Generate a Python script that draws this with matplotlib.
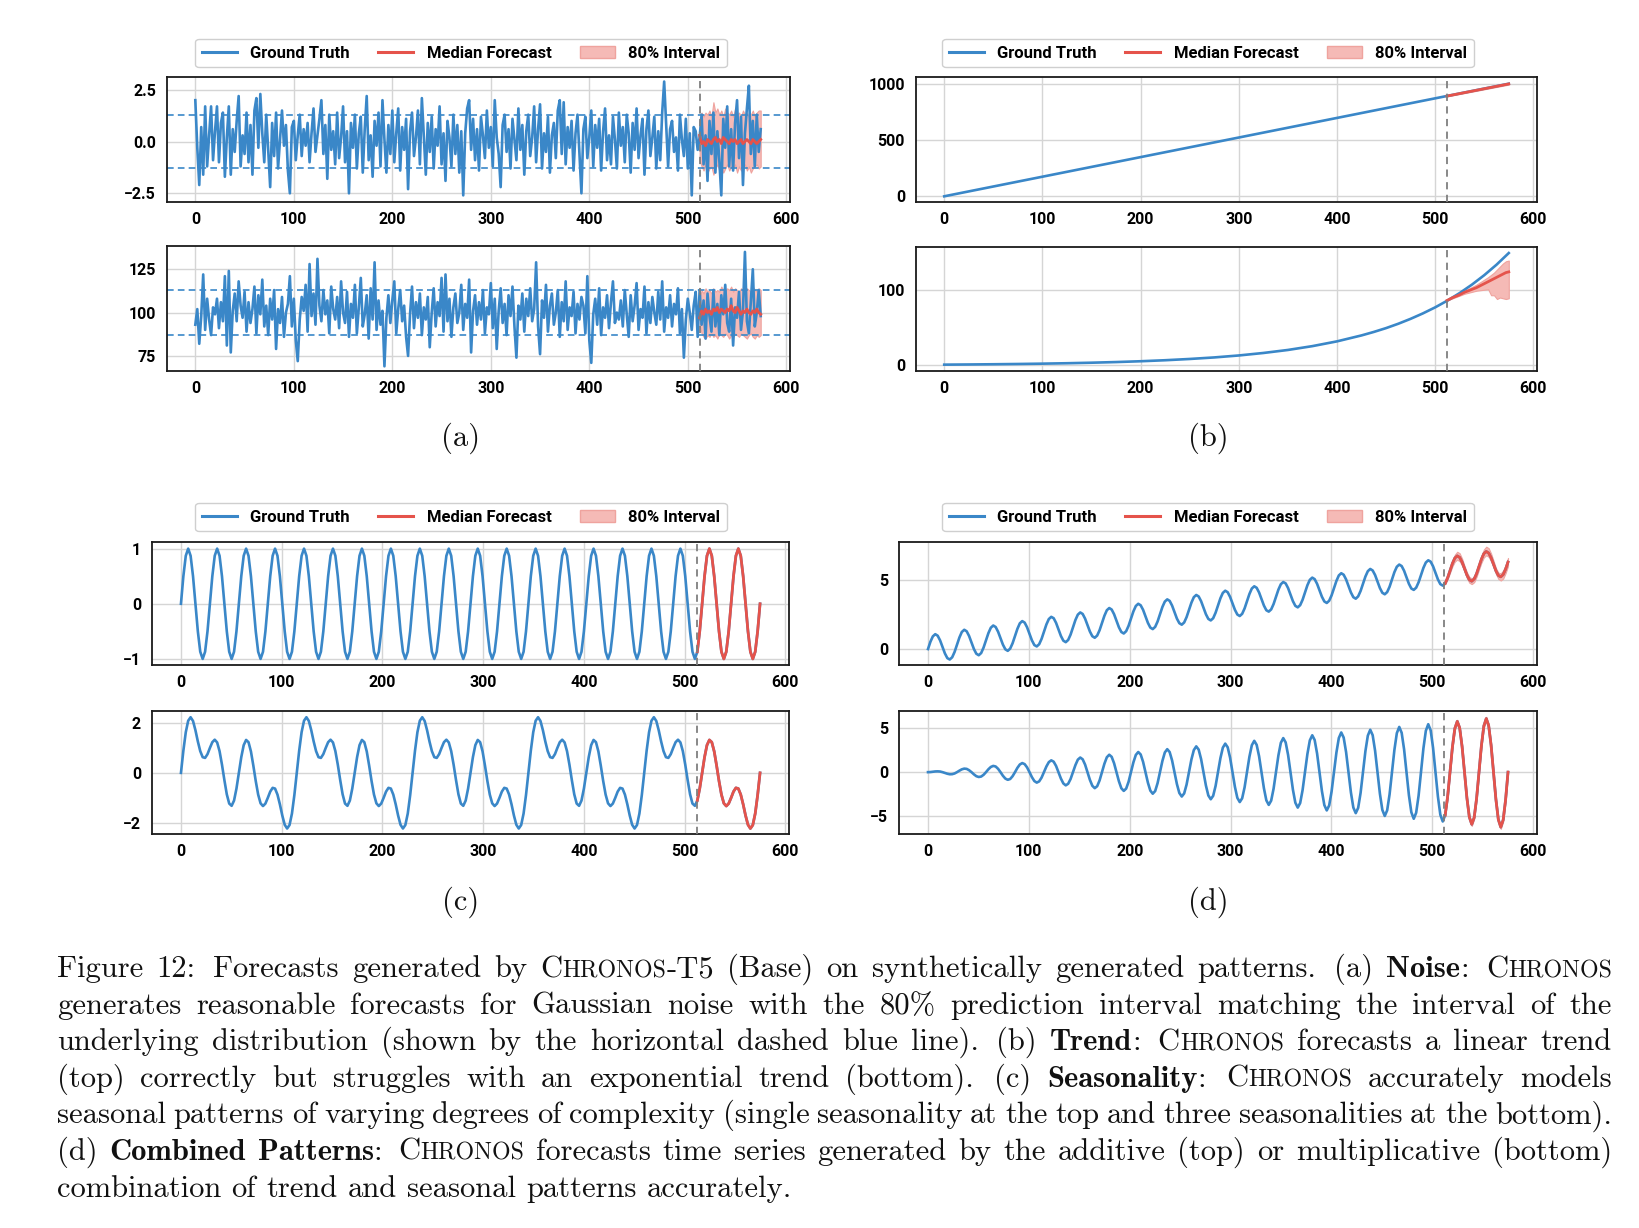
import os
import numpy as np
import matplotlib
matplotlib.use("Agg")
import matplotlib.pyplot as plt
from matplotlib.font_manager import FontProperties
from matplotlib.lines import Line2D
from matplotlib.patches import Patch

plt.rcParams['font.family'] = ['Roboto', 'DejaVu Sans']
plt.rcParams['font.weight'] = 'bold'

# ---------------- data ----------------
forecast_start = 512

# (a) Gaussian noise (read every 2nd step)
a_x = np.arange(0, 576, 2)
a_top_truth = [
    2.0, -0.3, -2.1, 0.7, -1.6, 1.7, -1.2, 0.3, 1.7, -0.9, 0.5, 1.7, -1.0, 0.9, 1.4, -1.7, 0.2, 1.7, -1.6, 0.6, -0.5, 1.0, 2.2, -1.2,
    0.3, -0.6, 1.4, -1.0, 0.8, -1.6, 1.5, 2.1, -0.3, 2.3, 0.4, -1.0, 1.3, -0.4, -2.2, 0.9, -0.7, 1.4, -1.3, 0.1, 1.5, -0.2, 0.8, -1.4,
    -2.5, 0.7, 1.0, -0.9, 0.3, 1.3, -0.7, 0.6, -0.2, 0.9, -1.0, 0.4, 1.6, -0.5, 0.3, 1.1, 2.0, -0.6, 0.8, -1.8, 1.3, -0.4, 0.5, -1.1,
    1.4, -0.8, 0.2, 1.7, -1.0, 0.5, -2.5, 0.9, -0.3, 1.3, -1.3, 0.4, 1.2, -1.5, 0.6, 2.2, -0.9, 0.3, -1.7, 1.0, -0.2, 1.4, -1.2, 2.0,
    0.1, -1.5, 0.8, -0.6, 1.5, -1.0, 0.4, 1.6, -1.4, 0.7, -0.4, 1.1, -2.3, 0.5, 1.4, -0.7, 0.2, 1.5, -1.1, 2.1, 0.3, -1.6, 0.9, -0.5,
    1.2, -1.3, 0.6, -0.2, 1.7, -1.1, 0.4, -1.9, 1.0, 0.2, -1.2, 1.3, -0.6, 0.8, -1.5, 0.5, -2.6, 0.4, 1.6, 2.0, -0.4, 1.1, -0.9, 0.6,
    -1.4, 1.2, 0.3, -0.8, 1.5, -0.3, 0.7, -1.2, 2.0, 0.2, -0.6, -2.2, 0.8, 1.3, -0.5, 0.6, -1.3, 1.1, 0.1, -0.9, 1.6, -0.4, 0.8, -1.6,
    0.5, 1.3, -0.7, 0.2, 1.7, -1.0, 0.6, 1.8, -1.3, 0.4, -0.5, 1.2, -1.5, 0.3, 0.9, -0.8, 1.5, 2.0, -0.6, 1.9, -1.1, 0.7, -0.3, 1.0,
    -1.4, 0.4, 1.3, -0.6, -2.5, 0.6, 1.2, -0.8, 0.2, 1.5, -1.2, 0.8, -0.3, 1.1, -1.4, 0.5, 1.6, -0.9, 0.3, -1.1, 1.2, 0.1, -1.3, 1.4,
    -0.2, 0.7, -1.0, 1.3, 0.4, -1.5, 0.9, -0.4, 1.6, -0.8, 0.3, 1.1, -1.6, 0.6, 1.5, -0.7, 0.2, 1.2, -1.3, 0.5, -0.9, 1.4, 2.9, 0.8,
    -1.2, 0.6, 1.0, -0.5, 0.2, -1.4, 1.3, 0.1, -0.7, 1.1, -1.3, 0.4, -2.6, 0.7, 0.5, -0.4, 0.2, 1.3, -1.1, 0.3, -1.9, 1.0, -0.6, 1.4,
    -1.5, 0.5, -0.9, -2.6, 1.1, -0.3, 1.7, -1.2, 0.6, -1.4, 0.9, 2.0, -0.8, 1.2, -2.1, 0.4, 1.6, 2.7, -0.6, 1.0, -1.2, 1.3, -0.5, 0.6,
]
a_top_bounds = [-1.28, 1.28]
a_bot_truth = [
    93, 102, 82, 98, 122, 90, 108, 96, 87, 103, 99, 108, 91, 106, 95, 121, 81, 124, 77, 101, 111, 95, 118, 104,
    97, 112, 89, 106, 94, 102, 115, 88, 110, 99, 119, 92, 104, 87, 108, 96, 113, 79, 102, 94, 109, 86, 100, 105,
    121, 92, 108, 84, 72, 96, 109, 101, 116, 89, 128, 98, 111, 93, 131, 104, 95, 113, 99, 107, 88, 115, 102, 96,
    109, 91, 118, 100, 94, 112, 86, 105, 97, 116, 88, 103, 120, 92, 99, 110, 85, 114, 96, 129, 90, 107, 93, 101,
    69, 97, 110, 94, 107, 118, 88, 102, 113, 95, 104, 86, 75, 99, 115, 91, 106, 97, 111, 87, 103, 96, 109, 80,
    100, 114, 92, 106, 98, 120, 89, 122, 95, 108, 86, 103, 111, 94, 100, 116, 90, 105, 97, 119, 77, 101, 110, 93,
    106, 96, 113, 88, 103, 99, 117, 91, 108, 79, 101, 114, 94, 105, 87, 110, 98, 115, 92, 74, 104, 96, 111, 89,
    108, 98, 114, 95, 102, 129, 92, 76, 107, 97, 116, 89, 104, 111, 93, 100, 113, 86, 106, 95, 118, 90, 103, 98,
    112, 88, 105, 96, 109, 104, 88, 121, 84, 71, 99, 108, 93, 114, 87, 103, 97, 110, 91, 106, 118, 94, 100, 96,
    107, 92, 113, 99, 86, 110, 95, 104, 117, 90, 102, 97, 115, 88, 106, 94, 109, 100, 93, 112, 96, 118, 89, 103,
    97, 110, 92, 105, 99, 114, 88, 102, 74, 96, 108, 100, 90, 104, 112, 86, 113, 93, 107, 85, 111, 98, 89, 113,
    92, 105, 87, 110, 99, 116, 94, 89, 108, 81, 103, 97, 112, 90, 101, 135, 95, 88, 106, 125, 92, 100, 113, 98,
]
a_bot_bounds = [87.2, 112.8]

a_fx = np.arange(512, 576, 2)
a_top_med = [0.3, -0.1, 0.0, -0.2, 0.1, 0.0, -0.1, 0.1, 0.2, 0.0, 0.1, -0.1, 0.2, 0.1, 0.0, -0.1,
             0.1, 0.0, 0.1, -0.1, 0.0, 0.1, -0.1, 0.0, 0.1, 0.0, -0.1, 0.1, 0.0, -0.1, 0.0, 0.1]
a_top_hi = [1.0, 1.4, 1.2, 1.4, 1.3, 1.5, 1.2, 1.9, 1.4, 1.6, 1.3, 1.5, 1.2, 1.6, 1.4, 1.3,
            1.5, 1.2, 1.6, 1.3, 1.4, 1.2, 1.5, 1.3, 1.4, 1.2, 1.3, 1.5, 1.2, 1.4, 1.5, 1.5]
a_top_lo = [-0.9, -1.2, -1.4, -1.1, -1.5, -1.3, -1.2, -1.6, -1.3, -1.1, -1.4, -1.2, -1.5, -1.3, -1.1, -1.4,
            -1.2, -1.3, -1.1, -1.5, -1.2, -1.4, -1.3, -1.1, -1.4, -1.2, -1.5, -1.3, -1.2, -1.1, -1.3, -1.2]
a_bot_med = [97, 101, 99, 102, 100, 101, 99, 102, 101, 103, 100, 102, 101, 100, 102, 101,
             104, 101, 100, 103, 101, 99, 101, 100, 102, 100, 99, 101, 100, 102, 100, 99]
a_bot_hi = [108, 113, 111, 114, 112, 113, 111, 114, 112, 113, 112, 115, 113, 112, 114, 113,
            115, 112, 114, 113, 112, 114, 113, 112, 114, 113, 112, 115, 113, 112, 114, 113]
a_bot_lo = [93, 88, 86, 85, 87, 86, 88, 86, 87, 85, 88, 87, 86, 88, 87, 85,
            87, 86, 88, 87, 86, 88, 87, 86, 85, 87, 88, 86, 85, 87, 86, 87]

# (b) trends
b_top_x = [0, 100, 200, 300, 400, 500, 575]
b_top_truth = [0, 174, 348, 522, 696, 870, 1000]
b_top_fx = [512, 544, 575]
b_top_med = [890, 945, 998]
b_top_hi = [893, 950, 1005]
b_top_lo = [887, 940, 992]

b_bot_x = [0, 25, 50, 75, 100, 125, 150, 175, 200, 225, 250, 275, 300, 325, 350, 375, 400, 425,
           437.5, 450, 462.5, 475, 487.5, 500, 512.5, 525, 537.5, 550, 562.5, 575]
b_bot_truth = [0.93, 1.16, 1.45, 1.80, 2.25, 2.80, 3.50, 4.36, 5.44, 6.78, 8.46, 10.5, 13.1, 16.4, 20.4,
               25.5, 31.8, 39.7, 44.3, 49.4, 55.2, 61.7, 68.9, 76.9, 85.9, 95.9, 107.1, 119.6, 133.5, 149.0]
b_bot_fx = [512, 518, 524, 530, 536, 542, 548, 554, 557, 560, 563, 566, 569, 572, 575]
b_bot_med = [86, 90, 93, 97, 100, 103, 107, 111, 113, 115, 117, 119, 121, 123, 124]
b_bot_hi = [86, 90, 94, 99, 103, 107, 112, 117, 120, 123, 127, 131, 135, 138, 139]
b_bot_lo = [86, 89, 92, 95, 97, 99, 100, 101, 93, 93, 88, 90, 89, 88, 89]

# (c), (d) seasonal series, read 12 times per short cycle
s_x = np.arange(241) * 575 / 240
s_fx = s_x[214:]
c_top_truth = [
    0, 0.5, 0.87, 1, 0.87, 0.5, 0, -0.5, -0.87, -1, -0.87, -0.5,
    0, 0.5, 0.87, 1, 0.87, 0.5, 0, -0.5, -0.87, -1, -0.87, -0.5,
    0, 0.5, 0.87, 1, 0.87, 0.5, 0, -0.5, -0.87, -1, -0.87, -0.5,
    0, 0.5, 0.87, 1, 0.87, 0.5, 0, -0.5, -0.87, -1, -0.87, -0.5,
    0, 0.5, 0.87, 1, 0.87, 0.5, 0, -0.5, -0.87, -1, -0.87, -0.5,
    0, 0.5, 0.87, 1, 0.87, 0.5, 0, -0.5, -0.87, -1, -0.87, -0.5,
    0, 0.5, 0.87, 1, 0.87, 0.5, 0, -0.5, -0.87, -1, -0.87, -0.5,
    0, 0.5, 0.87, 1, 0.87, 0.5, 0, -0.5, -0.87, -1, -0.87, -0.5,
    0, 0.5, 0.87, 1, 0.87, 0.5, 0, -0.5, -0.87, -1, -0.87, -0.5,
    0, 0.5, 0.87, 1, 0.87, 0.5, 0, -0.5, -0.87, -1, -0.87, -0.5,
    0, 0.5, 0.87, 1, 0.87, 0.5, 0, -0.5, -0.87, -1, -0.87, -0.5,
    0, 0.5, 0.87, 1, 0.87, 0.5, 0, -0.5, -0.87, -1, -0.87, -0.5,
    0, 0.5, 0.87, 1, 0.87, 0.5, 0, -0.5, -0.87, -1, -0.87, -0.5,
    0, 0.5, 0.87, 1, 0.87, 0.5, 0, -0.5, -0.87, -1, -0.87, -0.5,
    0, 0.5, 0.87, 1, 0.87, 0.5, 0, -0.5, -0.87, -1, -0.87, -0.5,
    0, 0.5, 0.87, 1, 0.87, 0.5, 0, -0.5, -0.87, -1, -0.87, -0.5,
    0, 0.5, 0.87, 1, 0.87, 0.5, 0, -0.5, -0.87, -1, -0.87, -0.5,
    0, 0.5, 0.87, 1, 0.87, 0.5, 0, -0.5, -0.87, -1, -0.87, -0.5,
    0, 0.5, 0.87, 1, 0.87, 0.5, 0, -0.5, -0.87, -1, -0.87, -0.5,
    0, 0.5, 0.87, 1, 0.87, 0.5, 0, -0.5, -0.87, -1, -0.87, -0.5,
    0,
]
c_top_med = [-0.87, -0.5, 0, 0.5, 0.87, 1, 0.87, 0.5, 0, -0.5, -0.87, -1, -0.87, -0.5,
             0, 0.5, 0.87, 1, 0.87, 0.5, 0, -0.5, -0.87, -1, -0.87, -0.5, 0]
c_bot_truth = [
    0, 0.89, 1.63, 2.09, 2.23, 2.08, 1.71, 1.26, 0.87, 0.63, 0.60, 0.75,
    1.00, 1.23, 1.33, 1.22, 0.87, 0.33, -0.29, -0.86, -1.23, -1.32, -1.11, -0.63,
    0, 0.63, 1.11, 1.32, 1.23, 0.86, 0.29, -0.33, -0.87, -1.22, -1.33, -1.23,
    -1.00, -0.75, -0.60, -0.63, -0.87, -1.26, -1.71, -2.08, -2.23, -2.09, -1.63, -0.89,
    0, 0.89, 1.63, 2.09, 2.23, 2.08, 1.71, 1.26, 0.87, 0.63, 0.60, 0.75,
    1.00, 1.23, 1.33, 1.22, 0.87, 0.33, -0.29, -0.86, -1.23, -1.32, -1.11, -0.63,
    0, 0.63, 1.11, 1.32, 1.23, 0.86, 0.29, -0.33, -0.87, -1.22, -1.33, -1.23,
    -1.00, -0.75, -0.60, -0.63, -0.87, -1.26, -1.71, -2.08, -2.23, -2.09, -1.63, -0.89,
    0, 0.89, 1.63, 2.09, 2.23, 2.08, 1.71, 1.26, 0.87, 0.63, 0.60, 0.75,
    1.00, 1.23, 1.33, 1.22, 0.87, 0.33, -0.29, -0.86, -1.23, -1.32, -1.11, -0.63,
    0, 0.63, 1.11, 1.32, 1.23, 0.86, 0.29, -0.33, -0.87, -1.22, -1.33, -1.23,
    -1.00, -0.75, -0.60, -0.63, -0.87, -1.26, -1.71, -2.08, -2.23, -2.09, -1.63, -0.89,
    0, 0.89, 1.63, 2.09, 2.23, 2.08, 1.71, 1.26, 0.87, 0.63, 0.60, 0.75,
    1.00, 1.23, 1.33, 1.22, 0.87, 0.33, -0.29, -0.86, -1.23, -1.32, -1.11, -0.63,
    0, 0.63, 1.11, 1.32, 1.23, 0.86, 0.29, -0.33, -0.87, -1.22, -1.33, -1.23,
    -1.00, -0.75, -0.60, -0.63, -0.87, -1.26, -1.71, -2.08, -2.23, -2.09, -1.63, -0.89,
    0, 0.89, 1.63, 2.09, 2.23, 2.08, 1.71, 1.26, 0.87, 0.63, 0.60, 0.75,
    1.00, 1.23, 1.33, 1.22, 0.87, 0.33, -0.29, -0.86, -1.23, -1.32, -1.11, -0.63,
    0, 0.63, 1.11, 1.32, 1.23, 0.86, 0.29, -0.33, -0.87, -1.22, -1.33, -1.23,
    -1.00, -0.75, -0.60, -0.63, -0.87, -1.26, -1.71, -2.08, -2.23, -2.09, -1.63, -0.89,
    0,
]
c_bot_med = [-1.11, -0.63, 0, 0.63, 1.11, 1.32, 1.23, 0.86, 0.29, -0.33, -0.87, -1.22, -1.33, -1.23,
             -1.00, -0.75, -0.60, -0.63, -0.87, -1.26, -1.71, -2.08, -2.23, -2.09, -1.63, -0.89, 0]
d_top_truth = [
    0, 0.53, 0.92, 1.08, 0.97, 0.63, 0.16, -0.32, -0.66, -0.76, -0.60, -0.21,
    0.32, 0.84, 1.24, 1.40, 1.29, 0.95, 0.47, 0.00, -0.34, -0.45, -0.29, 0.11,
    0.63, 1.16, 1.55, 1.71, 1.60, 1.26, 0.79, 0.32, -0.02, -0.13, 0.03, 0.42,
    0.95, 1.47, 1.87, 2.03, 1.92, 1.58, 1.11, 0.63, 0.29, 0.19, 0.35, 0.74,
    1.26, 1.79, 2.18, 2.34, 2.24, 1.90, 1.42, 0.95, 0.61, 0.50, 0.66, 1.05,
    1.58, 2.11, 2.50, 2.66, 2.55, 2.21, 1.74, 1.27, 0.93, 0.82, 0.98, 1.37,
    1.90, 2.42, 2.82, 2.98, 2.87, 2.53, 2.06, 1.58, 1.24, 1.13, 1.30, 1.69,
    2.21, 2.74, 3.13, 3.29, 3.18, 2.85, 2.37, 1.90, 1.56, 1.45, 1.61, 2.00,
    2.53, 3.06, 3.45, 3.61, 3.50, 3.16, 2.69, 2.21, 1.88, 1.77, 1.93, 2.32,
    2.85, 3.37, 3.77, 3.93, 3.82, 3.48, 3.00, 2.53, 2.19, 2.08, 2.24, 2.64,
    3.16, 3.69, 4.08, 4.24, 4.13, 3.79, 3.32, 2.85, 2.51, 2.40, 2.56, 2.95,
    3.48, 4.00, 4.40, 4.56, 4.45, 4.11, 3.64, 3.16, 2.82, 2.72, 2.88, 3.27,
    3.79, 4.32, 4.71, 4.87, 4.77, 4.43, 3.95, 3.48, 3.14, 3.03, 3.19, 3.58,
    4.11, 4.64, 5.03, 5.19, 5.08, 4.74, 4.27, 3.80, 3.46, 3.35, 3.51, 3.90,
    4.43, 4.95, 5.35, 5.51, 5.40, 5.06, 4.59, 4.11, 3.77, 3.66, 3.83, 4.22,
    4.74, 5.27, 5.66, 5.82, 5.71, 5.38, 4.90, 4.43, 4.09, 3.98, 4.14, 4.53,
    5.06, 5.59, 5.98, 6.14, 6.03, 5.69, 5.22, 4.74, 4.40, 4.30, 4.46, 4.85,
    5.38, 5.90, 6.29, 6.45, 6.35, 6.01, 5.53, 5.06, 4.72, 4.61, 4.77, 5.17,
    5.69, 6.22, 6.61, 6.77, 6.66, 6.32, 5.85, 5.38, 5.04, 4.93, 5.09, 5.48,
    6.01, 6.53, 6.93, 7.09, 6.98, 6.64, 6.17, 5.69, 5.35, 5.25, 5.41, 5.80,
    6.32,
]
d_top_med = [4.77, 5.17, 5.69, 6.22, 6.61, 6.77, 6.66, 6.32, 5.85, 5.38, 5.04, 4.93, 5.09, 5.48,
             6.01, 6.53, 6.93, 7.09, 6.98, 6.64, 6.17, 5.69, 5.35, 5.25, 5.41, 5.80, 6.32]
d_top_hi = [4.82, 5.27, 5.84, 6.42, 6.86, 7.07, 6.96, 6.57, 6.05, 5.58, 5.24, 5.13, 5.29, 5.68,
            6.21, 6.78, 7.23, 7.44, 7.33, 6.94, 6.42, 5.89, 5.55, 5.50, 5.71, 6.10, 6.62]
d_top_lo = [4.72, 5.07, 5.54, 6.02, 6.36, 6.50, 6.38, 6.07, 5.63, 5.15, 4.82, 4.72, 4.86, 5.26,
            5.78, 6.28, 6.66, 6.82, 6.70, 6.37, 5.93, 5.46, 5.10, 4.98, 5.12, 5.52, 6.03]
d_bot_truth = [
    0, 0.01, 0.05, 0.08, 0.09, 0.07, 0, -0.09, -0.18, -0.24, -0.23, -0.15,
    0, 0.17, 0.32, 0.40, 0.37, 0.22, 0, -0.25, -0.46, -0.55, -0.50, -0.30,
    0, 0.33, 0.59, 0.71, 0.64, 0.38, 0, -0.41, -0.73, -0.87, -0.78, -0.46,
    0, 0.49, 0.87, 1.03, 0.91, 0.54, 0, -0.57, -1.01, -1.19, -1.05, -0.62,
    0, 0.65, 1.14, 1.34, 1.19, 0.70, 0, -0.73, -1.28, -1.50, -1.32, -0.78,
    0, 0.80, 1.42, 1.66, 1.46, 0.86, 0, -0.88, -1.55, -1.82, -1.60, -0.94,
    0, 0.96, 1.69, 1.98, 1.74, 1.01, 0, -1.04, -1.83, -2.13, -1.87, -1.09,
    0, 1.12, 1.96, 2.29, 2.01, 1.17, 0, -1.20, -2.10, -2.45, -2.15, -1.25,
    0, 1.28, 2.24, 2.61, 2.28, 1.33, 0, -1.36, -2.37, -2.77, -2.42, -1.41,
    0, 1.44, 2.51, 2.93, 2.56, 1.49, 0, -1.52, -2.65, -3.08, -2.69, -1.57,
    0, 1.59, 2.78, 3.24, 2.83, 1.65, 0, -1.67, -2.92, -3.40, -2.97, -1.73,
    0, 1.75, 3.06, 3.56, 3.10, 1.81, 0, -1.83, -3.20, -3.72, -3.24, -1.88,
    0, 1.91, 3.33, 3.87, 3.38, 1.96, 0, -1.99, -3.47, -4.03, -3.51, -2.04,
    0, 2.07, 3.61, 4.19, 3.65, 2.12, 0, -2.15, -3.74, -4.35, -3.79, -2.20,
    0, 2.23, 3.88, 4.51, 3.93, 2.28, 0, -2.31, -4.02, -4.66, -4.06, -2.36,
    0, 2.39, 4.15, 4.82, 4.20, 2.44, 0, -2.46, -4.29, -4.98, -4.34, -2.52,
    0, 2.54, 4.43, 5.14, 4.47, 2.60, 0, -2.62, -4.56, -5.30, -4.61, -2.68,
    0, 2.70, 4.70, 5.45, 4.75, 2.75, 0, -2.78, -4.84, -5.61, -4.88, -2.83,
    0, 2.86, 4.97, 5.77, 5.02, 2.91, 0, -2.94, -5.11, -5.93, -5.16, -2.99,
    0, 3.02, 5.25, 6.09, 5.29, 3.07, 0, -3.10, -5.39, -6.25, -5.43, -3.15,
    0,
]
d_bot_med = [-4.88, -2.83, 0, 2.86, 4.97, 5.77, 5.02, 2.91, 0, -2.94, -5.11, -5.93, -5.16, -2.99,
             0, 3.02, 5.25, 6.09, 5.29, 3.07, 0, -3.10, -5.39, -6.25, -5.43, -3.15, 0]
d_bot_hi = [-4.75, -2.70, 0.12, 3.00, 5.14, 5.95, 5.19, 3.06, 0.14, -2.80, -4.95, -5.75, -5.00, -2.84,
            0.15, 3.18, 5.43, 6.29, 5.48, 3.23, 0.16, -2.93, -5.21, -6.05, -5.25, -2.98, 0.18]
d_bot_lo = [-5.01, -2.96, -0.12, 2.72, 4.80, 5.59, 4.85, 2.76, -0.14, -3.08, -5.27, -6.11, -5.32, -3.14,
            -0.15, 2.86, 5.07, 5.89, 5.10, 2.91, -0.16, -3.27, -5.57, -6.45, -5.61, -3.32, -0.18]

legend_labels = ['Ground Truth', 'Median Forecast', '80% Interval']
panel_labels = ['(a)', '(b)', '(c)', '(d)']

caption_lines = [
    "Figure 12: Forecasts generated by CHRONOS-T5 (Base) on synthetically generated patterns. (a) *Noise*: CHRONOS",
    "generates reasonable forecasts for Gaussian noise with the 80% prediction interval matching the interval of the",
    "underlying distribution (shown by the horizontal dashed blue line). (b) *Trend*: CHRONOS forecasts a linear trend",
    "(top) correctly but struggles with an exponential trend (bottom). (c) *Seasonality*: CHRONOS accurately models",
    "seasonal patterns of varying degrees of complexity (single seasonality at the top and three seasonalities at the bottom).",
    "(d) *Combined Patterns*: CHRONOS forecasts time series generated by the additive (top) or multiplicative (bottom)",
    "combination of trend and seasonal patterns accurately.",
]

# ---------------- figure ----------------
W, H = 1640, 1228
fig = plt.figure(figsize=(W / 100, H / 100), dpi=100)

BLUE = '#3a87c8'
RED = '#e5534b'
BAND = '#f5bab6'
BAND_EDGE = '#efa39e'


def make_ax(l, t, r, b, ylim, yticks, yfmt=None):
    ax = fig.add_axes([l / W, 1 - b / H, (r - l) / W, (b - t) / H])
    ax.set_xlim(-28.75, 603.75)
    ax.set_ylim(*ylim)
    ax.set_xticks(range(0, 601, 100))
    ax.set_yticks(yticks)
    if yfmt:
        ax.set_yticklabels([yfmt.format(v).replace('-', '\u2212') for v in yticks])
    ax.grid(True, color='#d5d5d5', lw=1.0)
    ax.set_axisbelow(True)
    for s in ax.spines.values():
        s.set_color('#1a1a1a')
        s.set_linewidth(1.3)
    ax.tick_params(length=0, labelsize=11.5)
    ax.tick_params(axis='x', pad=7)
    ax.tick_params(axis='y', pad=8)
    ax.axvline(forecast_start, color='#7f7f7f', ls=(0, (4, 3)), lw=1.3, zorder=4)
    return ax


def draw(ax, x, truth, fx, med, lo=None, hi=None):
    if lo is not None:
        ax.fill_between(fx, lo, hi, color=BAND, lw=0.8, edgecolor=BAND_EDGE, zorder=1.5)
    ax.plot(x, truth, color=BLUE, lw=1.9, zorder=2)
    ax.plot(fx, med, color=RED, lw=2.0, zorder=3)


# (a)
ax = make_ax(167, 77, 790, 202, (-2.92, 3.12), [-2.5, 0, 2.5], '{:.1f}')
draw(ax, a_x, a_top_truth, a_fx, a_top_med, a_top_lo, a_top_hi)
for v in a_top_bounds:
    ax.axhline(v, color=BLUE, ls=(0, (4, 2.5)), lw=1.2, zorder=2.5)
ax = make_ax(167, 246, 790, 371, (66.3, 138.4), [75, 100, 125])
draw(ax, a_x, a_bot_truth, a_fx, a_bot_med, a_bot_lo, a_bot_hi)
for v in a_bot_bounds:
    ax.axhline(v, color=BLUE, ls=(0, (4, 2.5)), lw=1.2, zorder=2.5)

# (b)
ax = make_ax(916, 77, 1537, 202, (-50.6, 1059.5), [0, 500, 1000])
draw(ax, b_top_x, b_top_truth, b_top_fx, b_top_med, b_top_lo, b_top_hi)
ax = make_ax(916, 247, 1537, 371, (-7.5, 157), [0, 100])
draw(ax, b_bot_x, b_bot_truth, b_bot_fx, b_bot_med, b_bot_lo, b_bot_hi)

# (c)
ax = make_ax(152, 542, 789, 665, (-1.11, 1.12), [-1, 0, 1])
draw(ax, s_x, c_top_truth, s_fx, c_top_med)
ax = make_ax(152, 711, 789, 834, (-2.45, 2.48), [-2, 0, 2])
draw(ax, s_x, c_bot_truth, s_fx, c_bot_med)

# (d)
ax = make_ax(899, 542, 1537, 665, (-1.16, 7.78), [0, 5])
draw(ax, s_x, d_top_truth, s_fx, d_top_med, d_top_lo, d_top_hi)
ax = make_ax(899, 711, 1537, 834, (-7.03, 6.95), [-5, 0, 5])
draw(ax, s_x, d_bot_truth, s_fx, d_bot_med, d_bot_lo, d_bot_hi)

# legends
handles = [Line2D([], [], color=BLUE, lw=2.2),
           Line2D([], [], color=RED, lw=2.2),
           Patch(facecolor=BAND, edgecolor=BAND_EDGE)]
for cx, cy in [(461, 53), (1208, 53), (461, 517), (1208, 517)]:
    leg = fig.legend(handles, legend_labels, loc='center', bbox_to_anchor=(cx / W, 1 - cy / H),
                     ncol=3, fontsize=12, handlelength=2.1, handletextpad=0.8, columnspacing=1.7,
                     fancybox=True, framealpha=1, edgecolor='#cfcfcf', borderpad=0.4)
    leg.get_frame().set_linewidth(1.0)

# ---------------- caption (Computer Modern) ----------------
ttf_dir = os.path.join(matplotlib.get_data_path(), 'fonts', 'ttf')
def cm_font(name, size, fallback_weight):
    p = os.path.join(ttf_dir, name)
    if os.path.exists(p):
        return FontProperties(fname=p, size=size)
    return FontProperties(family='DejaVu Serif', weight=fallback_weight, size=size)

FS = 22
fonts = {'r': cm_font('cmr10.ttf', FS, 'normal'),
         'b': cm_font('cmb10.ttf', FS, 'bold'),
         'sc': cm_font('cmr10.ttf', FS * 0.78, 'normal')}

for lab, (cx, cy) in zip(panel_labels, [(461, 438), (1208, 438), (461, 902), (1208, 902)]):
    fig.text(cx / W, 1 - cy / H, lab, fontproperties=fonts['r'], ha='center', va='center', color='#111111')


def split_runs(word, bold):
    out, buf = [], ''
    for ch in word:
        if ch == '*':
            if buf:
                out.append((buf, 'b' if bold else 'r'))
                buf = ''
            bold = not bold
        else:
            buf += ch
    if buf:
        out.append((buf, 'b' if bold else 'r'))
    final = []
    for txt, st in out:
        if 'CHRONOS' in txt:
            i = txt.index('CHRONOS')
            if txt[:i]:
                final.append((txt[:i], st))
            final.append(('C', st))
            final.append(('HRONOS', 'sc'))
            if txt[i + 7:]:
                final.append((txt[i + 7:], st))
        else:
            final.append((txt, st))
    return final, bold


renderer = fig.canvas.get_renderer()
x_left, x_right = 57, 1612
base0, lead = 977, 36.6
bold = False
for li, line in enumerate(caption_lines):
    words = line.split(' ')
    placed = []
    for w in words:
        runs, bold = split_runs(w, bold)
        items = []
        for txt, st in runs:
            t = fig.text(0, 0, txt, fontproperties=fonts[st], va='baseline', ha='left', color='#111111')
            items.append((t, t.get_window_extent(renderer).width))
        placed.append(items)
    widths = [sum(wd for _, wd in it) for it in placed]
    weights = [1.33 if w.replace('*', '').endswith(('.', ':')) else 1.0 for w in words[:-1]]
    if li < len(caption_lines) - 1:
        gap = (x_right - x_left - sum(widths)) / sum(weights)
    else:
        gap = FS * 100 / 72 * 0.333
    y = 1 - (base0 + li * lead) / H
    x = x_left
    for i, items in enumerate(placed):
        for t, wd in items:
            t.set_position((x / W, y))
            x += wd
        if i < len(weights):
            x += gap * weights[i]

fig.savefig('out.png', dpi=100, facecolor='white')
